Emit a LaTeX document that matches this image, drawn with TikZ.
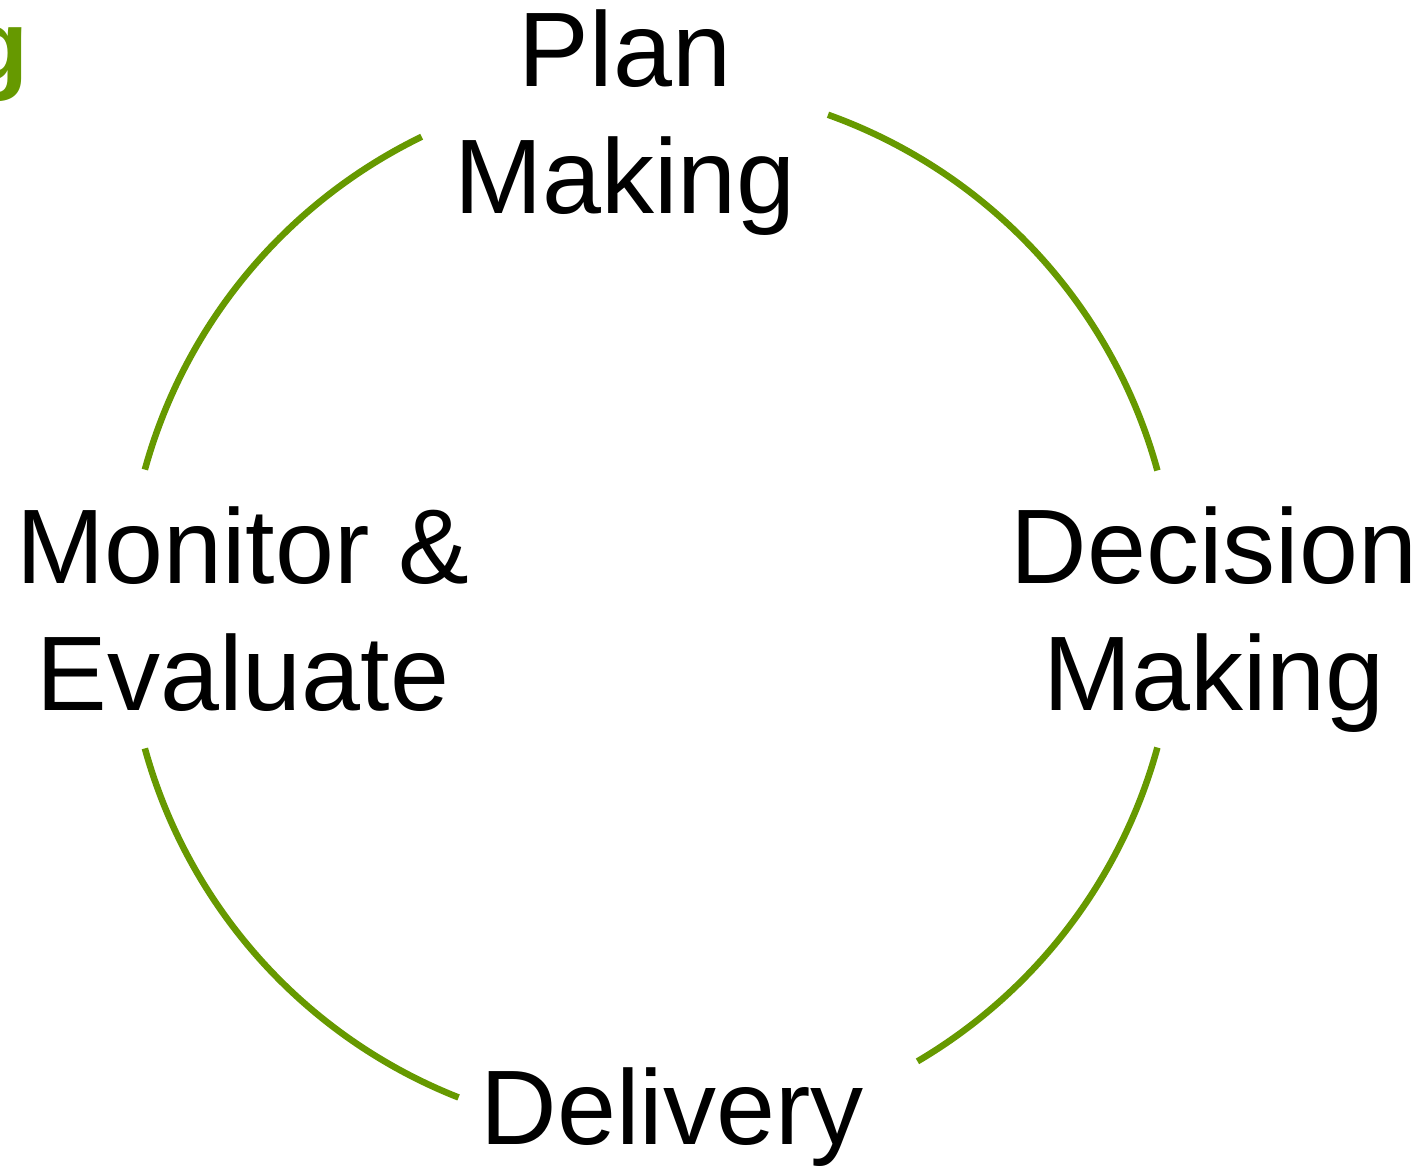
\documentclass[tikz,border=0pt]{standalone}
\usepackage{fontspec}
\setmainfont{Liberation Sans}
\definecolor{cycgreen}{HTML}{669900}
\begin{document}
\begin{tikzpicture}[x=1pt,y=1pt,
  lbl/.style={inner sep=0pt, align=center, anchor=base, font=\fontsize{106}{127}\selectfont},
  cyc/.style={draw=cycgreen, line width=6.5pt, line cap=butt}]
\path[use as bounding box] (0,0) rectangle (1424,-1165);
\coordinate (c) at (651,-609);
\node[lbl] (plan) at (625,-213) {Plan\\Making};
\node[lbl] (decision) at (1214,-710) {Decision\\Making};
\node[lbl] (delivery) at (672,-1144) {Delivery};
\node[lbl] (monitor) at (243,-710) {Monitor \&\\Evaluate};
\node[inner sep=0pt, anchor=base east, text=cycgreen, font=\fontsize{100}{120}\selectfont\bfseries] (title) at (29,-80) {g};
\draw[cyc] ([shift={(15.3:525)}]c) arc[start angle=15.3, end angle=70.3, radius=525];
\draw[cyc] ([shift={(115.9:525)}]c) arc[start angle=115.9, end angle=164.6, radius=525];
\draw[cyc] ([shift={(195.4:525)}]c) arc[start angle=195.4, end angle=248.5, radius=525];
\draw[cyc] ([shift={(300.5:525)}]c) arc[start angle=300.5, end angle=344.7, radius=525];
\end{tikzpicture}
\end{document}
